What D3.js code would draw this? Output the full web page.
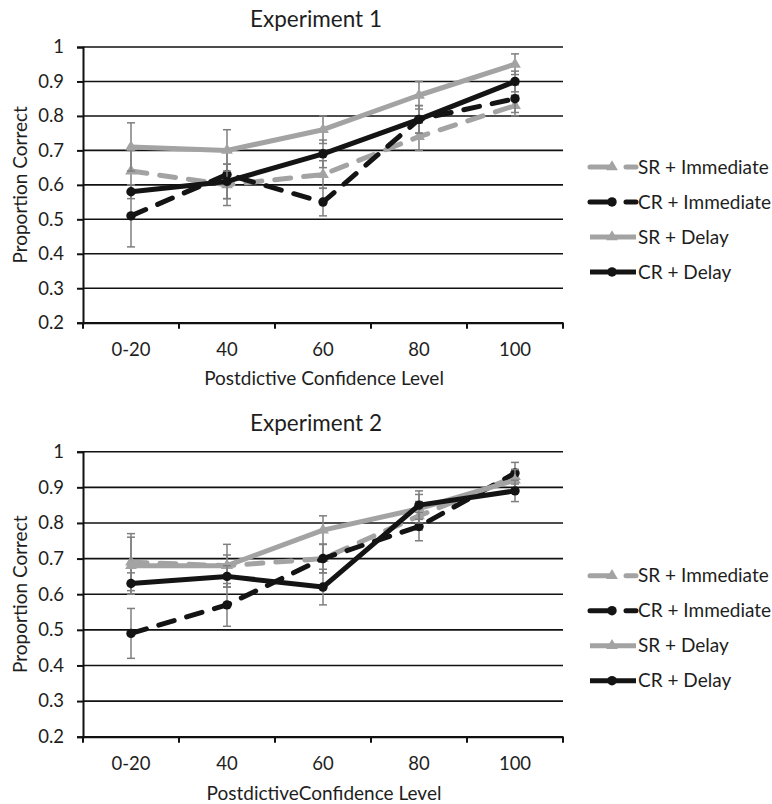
<!DOCTYPE html>
<html>
<head>
<meta charset="utf-8">
<script src="https://cdn.jsdelivr.net/npm/d3@7"></script>
<style>
  body { margin: 0; background: #fff; }
  text { font-family: Lato, "Noto Sans", sans-serif; fill: #1e1e1e; }
</style>
</head>
<body>
<script>
// Categories and ticks.
var categories = ["0-20", "40", "60", "80", "100"];
var yTicks = [0.2, 0.3, 0.4, 0.5, 0.6, 0.7, 0.8, 0.9, 1];
var seriesNames = ["SR + Immediate", "CR + Immediate", "SR + Delay", "CR + Delay"];

// Experiment 1 values.
var exp1SrImmediate = [0.64, 0.60, 0.63, 0.74, 0.83];
var exp1CrImmediate = [0.51, 0.63, 0.55, 0.79, 0.85];
var exp1SrDelay = [0.71, 0.70, 0.76, 0.86, 0.95];
var exp1CrDelay = [0.58, 0.61, 0.69, 0.79, 0.90];
var exp1SrImmediateErr = [0.06, 0.06, 0.04, 0.04, 0.03];
var exp1CrImmediateErr = [0.09, 0.07, 0.04, 0.04, 0.04];
var exp1SrDelayErr = [0.07, 0.06, 0.04, 0.04, 0.03];
var exp1CrDelayErr = [0.02, 0.05, 0.04, 0.04, 0.03];

// Experiment 2 values.
var exp2SrImmediate = [0.69, 0.68, 0.70, 0.82, 0.93];
var exp2CrImmediate = [0.49, 0.57, 0.70, 0.79, 0.94];
var exp2SrDelay = [0.68, 0.68, 0.78, 0.84, 0.92];
var exp2CrDelay = [0.63, 0.65, 0.62, 0.85, 0.89];
var exp2SrImmediateErr = [0.08, 0.03, 0.04, 0.04, 0.02];
var exp2CrImmediateErr = [0.07, 0.06, 0.04, 0.04, 0.03];
var exp2SrDelayErr = [0.08, 0.06, 0.04, 0.04, 0.03];
var exp2CrDelayErr = [0.03, 0.03, 0.05, 0.04, 0.03];

var GRAY = "#a3a3a3", BLACK = "#141414", ERR = "#7f7f7f";
var styles = [
    { color: GRAY, dash: "16,13", marker: "triangle" },
    { color: BLACK, dash: "16,13", marker: "circle" },
    { color: GRAY, dash: null, marker: "triangle" },
    { color: BLACK, dash: null, marker: "circle" }
];

var svg = d3.select("body").append("svg")
        .attr("width", 772)
        .attr("height", 804);

var drawPanel = function(params) {
    var g = svg.append("g");
    var x = d3.scaleBand().domain(categories).range([83, 563]);
    var y = d3.scaleLinear().domain([0.2, 1]).range([params.bottom, params.top]);

    // Gridlines.
    g.selectAll("line.grid").data(yTicks).enter().append("line")
            .attr("x1", 83).attr("x2", 563)
            .attr("y1", function(d) { return y(d); })
            .attr("y2", function(d) { return y(d); })
            .attr("stroke", "#111").attr("stroke-width", 1.6);

    // Axes.
    var yAxis = g.append("g").attr("transform", "translate(83,0)")
            .call(d3.axisLeft(y).tickValues(yTicks).tickSize(6).tickPadding(13)
                .tickFormat(function(d) { return d === 1 ? "1" : d3.format(".1f")(d); }));
    var xAxis = g.append("g").attr("transform", "translate(0," + params.bottom + ")")
            .call(d3.axisBottom(x).tickSize(0).tickPadding(20));
    [yAxis, xAxis].forEach(function(a) {
        a.select(".domain").attr("stroke", "#111").attr("stroke-width", 2);
        a.selectAll(".tick line").attr("stroke", "#111").attr("stroke-width", 2);
        a.selectAll("text").style("font-size", "18.5px").attr("fill", "#1e1e1e")
            .style("font-family", "Lato, sans-serif");
    });
    xAxis.selectAll(".tick text").attr("dy", "0.71em");
    // Tick marks between categories.
    var bounds = categories.map(function(c) { return x(c); }).concat([563]);
    g.selectAll("line.xt").data(bounds).enter().append("line")
            .attr("x1", function(d) { return d; }).attr("x2", function(d) { return d; })
            .attr("y1", params.bottom).attr("y2", params.bottom + 6)
            .attr("stroke", "#111").attr("stroke-width", 2);

    // Series.
    var cx = function(i) { return x(categories[i]) + x.bandwidth() / 2; };
    params.series.forEach(function(s, k) {
        var st = styles[k];
        var eg = g.append("g");
        s.values.forEach(function(v, i) {
            var e = s.err[i];
            eg.append("line").attr("x1", cx(i)).attr("x2", cx(i))
                    .attr("y1", y(v - e)).attr("y2", y(v + e))
                    .attr("stroke", ERR).attr("stroke-width", 1.5);
            [v - e, v + e].forEach(function(t) {
                eg.append("line").attr("x1", cx(i) - 4).attr("x2", cx(i) + 4)
                        .attr("y1", y(t)).attr("y2", y(t))
                        .attr("stroke", ERR).attr("stroke-width", 1.5);
            });
        });
        var line = d3.line().x(function(d, i) { return cx(i); }).y(function(d) { return y(d); });
        g.append("path").datum(s.values)
                .attr("d", line)
                .attr("fill", "none")
                .attr("stroke", st.color)
                .attr("stroke-width", 5)
                .attr("stroke-linecap", st.dash ? "round" : "butt")
                .attr("stroke-linejoin", "round")
                .attr("stroke-dasharray", st.dash);
        var sym = d3.symbol().type(st.marker === "circle" ? d3.symbolCircle : d3.symbolTriangle)
                .size(st.marker === "circle" ? 70 : 60);
        g.selectAll(null).data(s.values).enter().append("path")
                .attr("d", sym)
                .attr("transform", function(d, i) { return "translate(" + cx(i) + "," + y(d) + ")"; })
                .attr("fill", st.color);
    });

    // Titles.
    g.append("text").attr("x", 316).attr("y", params.titleY)
            .attr("text-anchor", "middle").style("font-size", "22.5px").text(params.title);
    g.append("text").attr("x", 324).attr("y", params.xTitleY)
            .attr("text-anchor", "middle").style("font-size", "19px").text(params.xTitle);
    g.append("text")
            .attr("transform", "translate(27," + (params.top + params.bottom) / 2 + ") rotate(-90)")
            .attr("text-anchor", "middle").style("font-size", "19px").text("Proportion Correct");

    // Legend.
    var ly = params.top + 0.435 * (params.bottom - params.top);
    seriesNames.forEach(function(name, k) {
        var st = styles[k];
        var yy = ly + k * 35;
        g.append("line").attr("x1", 590).attr("x2", 636).attr("y1", yy).attr("y2", yy)
                .attr("stroke", st.color).attr("stroke-width", 5)
                .attr("stroke-linecap", st.dash ? "round" : "butt")
                .attr("stroke-dasharray", st.dash ? "20,16" : null);
        var sym = d3.symbol().type(st.marker === "circle" ? d3.symbolCircle : d3.symbolTriangle)
                .size(st.marker === "circle" ? 70 : 60);
        g.append("path").attr("d", sym).attr("transform", "translate(612," + yy + ")").attr("fill", st.color);
        g.append("text").attr("x", 638).attr("y", yy).attr("dy", "0.35em")
                .style("font-size", "19px").text(name);
    });
};

drawPanel({
    top: 47, bottom: 322.7, titleY: 27, xTitleY: 385,
    title: "Experiment 1", xTitle: "Postdictive Confidence Level",
    series: [
        { values: exp1SrImmediate, err: exp1SrImmediateErr },
        { values: exp1CrImmediate, err: exp1CrImmediateErr },
        { values: exp1SrDelay, err: exp1SrDelayErr },
        { values: exp1CrDelay, err: exp1CrDelayErr }
    ]
});
drawPanel({
    top: 451.7, bottom: 736.7, titleY: 431, xTitleY: 800,
    title: "Experiment 2", xTitle: "PostdictiveConfidence Level",
    series: [
        { values: exp2SrImmediate, err: exp2SrImmediateErr },
        { values: exp2CrImmediate, err: exp2CrImmediateErr },
        { values: exp2SrDelay, err: exp2SrDelayErr },
        { values: exp2CrDelay, err: exp2CrDelayErr }
    ]
});
</script>
</body>
</html>
